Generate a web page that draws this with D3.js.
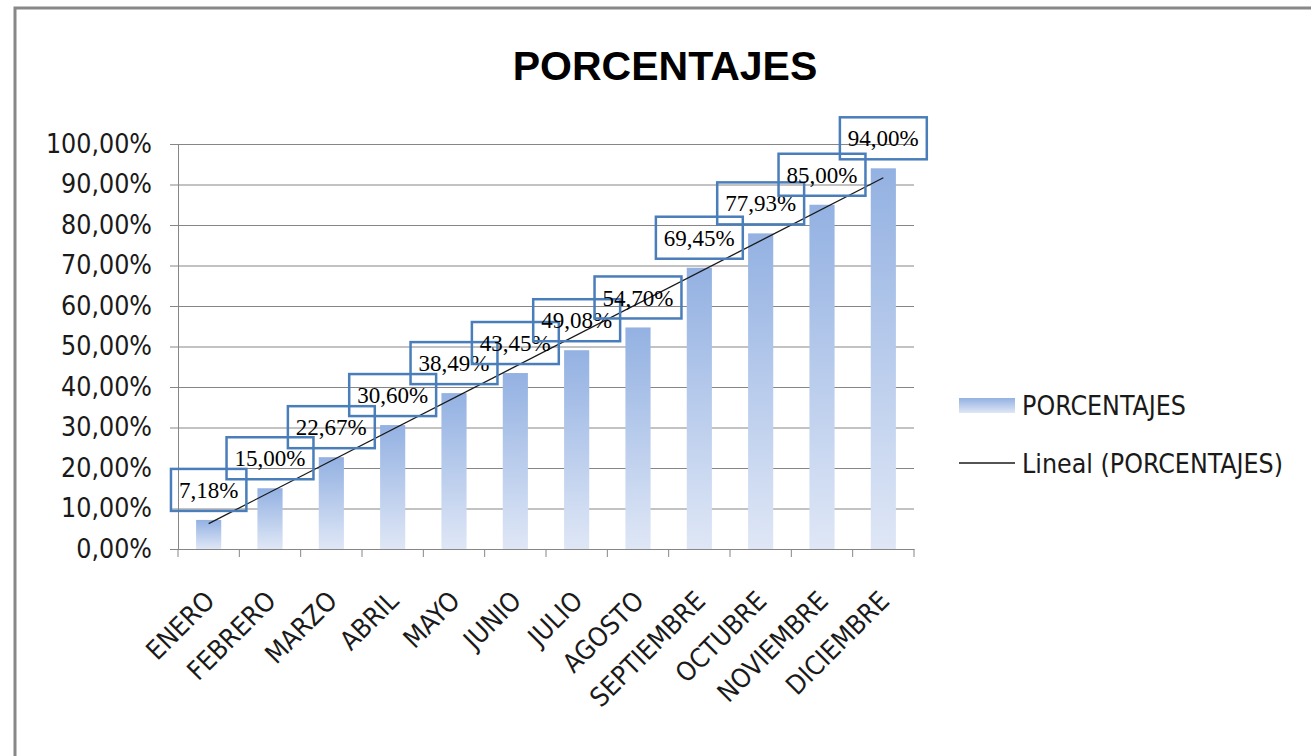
<!DOCTYPE html>
<html>
<head>
<meta charset="utf-8">
<script src="https://cdn.jsdelivr.net/npm/d3@7"></script>
<style>
body { margin: 0; background: #fff; }
svg { display: block; }
</style>
</head>
<body>
<script>
// datos
var meses = ["ENERO", "FEBRERO", "MARZO", "ABRIL", "MAYO", "JUNIO", "JULIO", "AGOSTO", "SEPTIEMBRE", "OCTUBRE", "NOVIEMBRE", "DICIEMBRE"];
var porcentajes = [7.18, 15.00, 22.67, 30.60, 38.49, 43.45, 49.08, 54.70, 69.45, 77.93, 85.00, 94.00];
var yTicks = [0, 10, 20, 30, 40, 50, 60, 70, 80, 90, 100];
var titulo = "PORCENTAJES";
var leyenda = ["PORCENTAJES", "Lineal (PORCENTAJES)"];

var W = 1311, H = 756;
var plot = {left: 178, right: 914, top: 144, bottom: 549};
var sansFont = "'DejaVu Sans Condensed', 'Liberation Sans', sans-serif";

var svg = d3.select("body").append("svg")
	.attr("width", W)
	.attr("height", H);

var defs = svg.append("defs");
var grad = defs.append("linearGradient")
	.attr("id", "barGrad")
	.attr("x1", 0).attr("y1", 0).attr("x2", 0).attr("y2", 1);
grad.append("stop").attr("offset", "0%").attr("stop-color", "#93b1e2");
grad.append("stop").attr("offset", "100%").attr("stop-color", "#dfe7f6");

//marco
svg.append("path")
	.attr("d", "M15," + H + "V8H" + W)
	.attr("fill", "none")
	.attr("stroke", "#888")
	.attr("stroke-width", 3);

//title
svg.append("text")
	.attr("x", 665)
	.attr("y", 80)
	.attr("text-anchor", "middle")
	.style("font-family", "'Liberation Sans', sans-serif")
	.style("font-weight", "bold")
	.style("font-size", "41px")
	.attr("fill", "#000")
	.text(titulo);

var xSlot = d3.scaleBand().domain(meses).range([plot.left, plot.right]);
var xScale = d3.scaleBand().domain(meses).range([plot.left, plot.right])
	.paddingInner(0.59).paddingOuter(0.295);
var yScale = d3.scaleLinear().domain([0, 100]).range([plot.bottom, plot.top]);

var fmt = function(v) { return d3.format(".2f")(v).replace(".", ",") + "%"; };

//gridlines + y axis
var yAxis = d3.axisLeft(yScale)
	.tickValues(yTicks)
	.tickFormat(fmt)
	.tickSize(-(plot.right - plot.left))
	.tickSizeOuter(0)
	.tickPadding(20);
var gy = svg.append("g")
	.attr("transform", "translate(" + plot.left + ",0)")
	.call(yAxis);
gy.select(".domain").attr("stroke", "#868686");
gy.selectAll(".tick line")
	.attr("x1", -8)
	.attr("stroke", "#868686");
gy.selectAll(".tick text")
	.attr("x", -26)
	.attr("fill", "#1a1a1a")
	.style("font-family", sansFont)
	.style("font-size", "26.5px");

//x axis
var xAxis = d3.axisBottom(xSlot).tickSize(0).tickFormat("");
var gx = svg.append("g")
	.attr("transform", "translate(0," + plot.bottom + ")")
	.call(xAxis);
gx.select(".domain").attr("stroke", "#868686");
gx.selectAll(".tick").remove();
var edges = meses.map(function(m) { return xSlot(m); }).concat([plot.right]);
gx.selectAll("line.edge")
	.data(edges)
	.enter().append("line")
	.attr("class", "edge")
	.attr("x1", function(d) { return d; })
	.attr("x2", function(d) { return d; })
	.attr("y1", 0)
	.attr("y2", 8)
	.attr("stroke", "#868686");

svg.append("g").selectAll("text")
	.data(meses)
	.enter().append("text")
	.attr("transform", function(d) {
		return "translate(" + (xSlot(d) + xSlot.bandwidth() / 2 + 1) + "," + (plot.bottom + 47) + ") rotate(-45)";
	})
	.attr("text-anchor", "end")
	.attr("dy", "0.35em")
	.attr("fill", "#1a1a1a")
	.style("font-family", sansFont)
	.style("font-size", "26.5px")
	.text(function(d) { return d; });

//bars
svg.append("g").selectAll("rect")
	.data(porcentajes)
	.enter().append("rect")
	.attr("x", function(d, i) { return xScale(meses[i]); })
	.attr("y", function(d) { return yScale(d); })
	.attr("width", xScale.bandwidth())
	.attr("height", function(d) { return plot.bottom - yScale(d); })
	.attr("fill", "url(#barGrad)");

//trend line (linear regression like excel)
var n = porcentajes.length;
var mx = (n + 1) / 2, my = d3.mean(porcentajes);
var sxy = 0, sxx = 0;
porcentajes.forEach(function(v, i) {
	sxy += (i + 1 - mx) * (v - my);
	sxx += (i + 1 - mx) * (i + 1 - mx);
});
var slope = sxy / sxx, icpt = my - slope * mx;
var cx = function(i) { return xScale(meses[i]) + xScale.bandwidth() / 2; };
svg.append("path")
	.datum([0, n - 1])
	.attr("d", d3.line()
		.x(function(i) { return cx(i); })
		.y(function(i) { return yScale(icpt + slope * (i + 1)); }))
	.attr("fill", "none")
	.attr("stroke", "#1a1a1a")
	.attr("stroke-width", 1.3);

//data labels
var labels = svg.append("g").selectAll("g")
	.data(porcentajes)
	.enter().append("g");
labels.append("text")
	.attr("x", function(d, i) { return cx(i); })
	.attr("y", function(d) { return yScale(d) - 30; })
	.attr("text-anchor", "middle")
	.attr("dy", "0.35em")
	.attr("fill", "#000")
	.style("font-family", "'Liberation Serif', serif")
	.style("font-size", "23px")
	.text(fmt);
labels.each(function(d, i) {
	var bb = d3.select(this).select("text").node().getBBox();
	d3.select(this).insert("rect", "text")
		.attr("x", cx(i) - bb.width / 2 - 8)
		.attr("y", yScale(d) - 51)
		.attr("width", bb.width + 16)
		.attr("height", 42)
		.attr("fill", "none")
		.attr("stroke", "#4a7ebb")
		.attr("stroke-width", 2.5);
});

//legend
var lg = svg.append("g");
lg.append("rect")
	.attr("x", 959).attr("y", 398)
	.attr("width", 56).attr("height", 15)
	.attr("fill", "url(#barGrad)");
lg.append("line")
	.attr("x1", 959).attr("x2", 1015)
	.attr("y1", 463).attr("y2", 463)
	.attr("stroke", "#1a1a1a")
	.attr("stroke-width", 1.3);
lg.selectAll("text")
	.data(leyenda)
	.enter().append("text")
	.attr("x", 1022)
	.attr("y", function(d, i) { return 415 + i * 58; })
	.attr("fill", "#1a1a1a")
	.style("font-family", sansFont)
	.style("font-size", "26.5px")
	.text(function(d) { return d; });
</script>
</body>
</html>
